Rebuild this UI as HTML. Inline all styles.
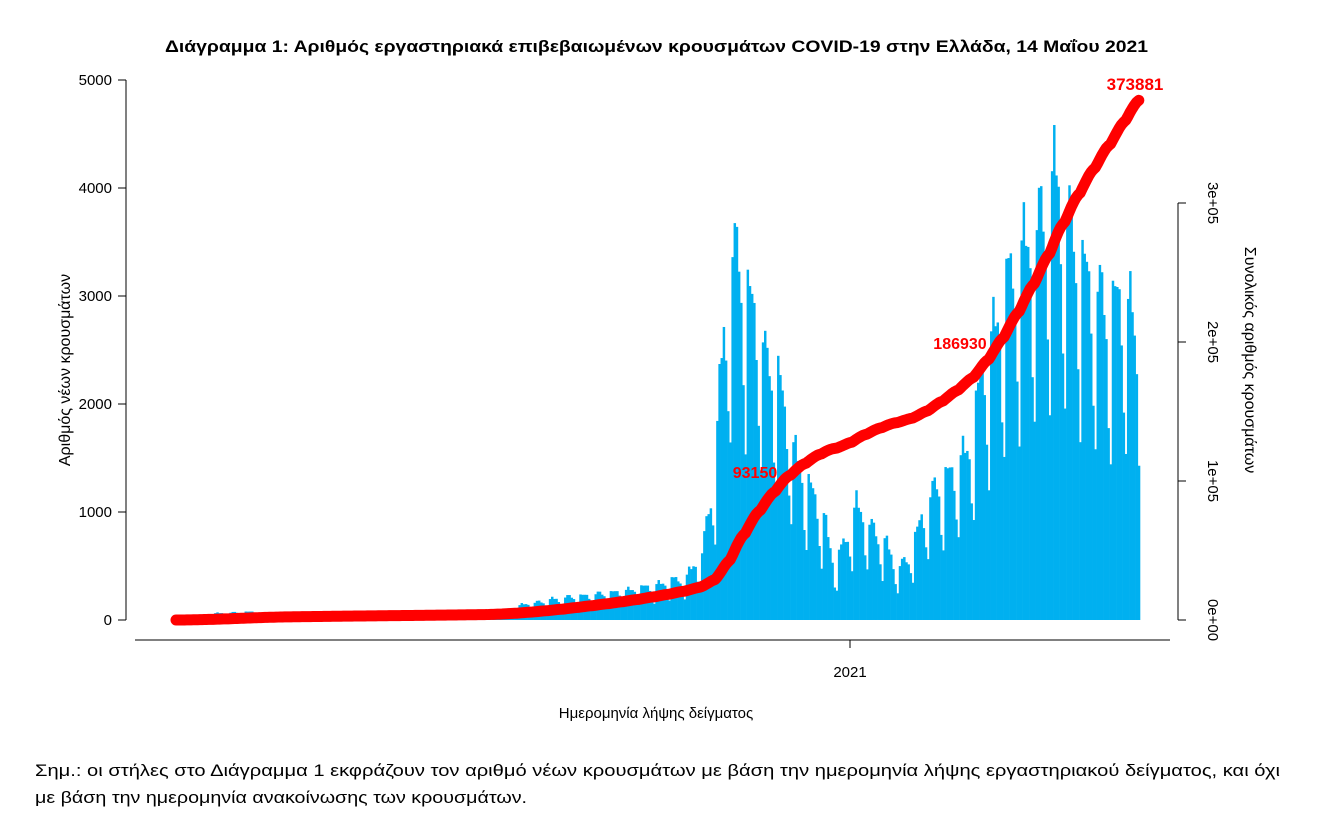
<!DOCTYPE html>
<html><head><meta charset="utf-8"><style>
body{margin:0;background:#fff;width:1336px;height:820px;overflow:hidden;font-family:"Liberation Sans","DejaVu Sans",sans-serif}
svg text{font-family:"Liberation Sans","DejaVu Sans",sans-serif}
</style></head><body>
<svg id="s" width="1336" height="820" xmlns="http://www.w3.org/2000/svg">
<text x="165" y="52" font-size="17" font-weight="bold" textLength="983" lengthAdjust="spacingAndGlyphs">Διάγραμμα 1: Αριθμός εργαστηριακά επιβεβαιωμένων κρουσμάτων COVID-19 στην Ελλάδα, 14 Μαΐου 2021</text>
<g id="bars" fill="#00b0f0"></g>
<g id="line"></g>
<g stroke="#000" stroke-width="1" fill="none">
<line x1="126" y1="80" x2="126" y2="620"/>
<line x1="118" y1="80" x2="126" y2="80"/><line x1="118" y1="188" x2="126" y2="188"/><line x1="118" y1="296" x2="126" y2="296"/><line x1="118" y1="404" x2="126" y2="404"/><line x1="118" y1="512" x2="126" y2="512"/><line x1="118" y1="620" x2="126" y2="620"/>
<line x1="135" y1="640" x2="1170" y2="640"/><line x1="850" y1="640" x2="850" y2="648"/>
<line x1="1178" y1="203" x2="1178" y2="620"/>
<line x1="1178" y1="203" x2="1186" y2="203"/><line x1="1178" y1="342" x2="1186" y2="342"/><line x1="1178" y1="481" x2="1186" y2="481"/><line x1="1178" y1="620" x2="1186" y2="620"/>
</g>
<g font-size="15" text-anchor="end">
<text x="112" y="85">5000</text><text x="112" y="193">4000</text><text x="112" y="301">3000</text><text x="112" y="409">2000</text><text x="112" y="517">1000</text><text x="112" y="625">0</text>
</g>
<text x="850" y="677" font-size="15" text-anchor="middle">2021</text>
<g font-size="15" text-anchor="middle">
<text transform="translate(1208,620) rotate(90)">0e+00</text>
<text transform="translate(1208,481) rotate(90)">1e+05</text>
<text transform="translate(1208,342) rotate(90)">2e+05</text>
<text transform="translate(1208,203) rotate(90)">3e+05</text>
</g>
<text transform="translate(70,370) rotate(-90)" font-size="16" text-anchor="middle">Αριθμός νέων κρουσμάτων</text>
<text transform="translate(1245,360) rotate(90)" font-size="16" text-anchor="middle">Συνολικός αριθμός κρουσμάτων</text>
<text x="656" y="718" font-size="15" text-anchor="middle">Ημερομηνία λήψης δείγματος</text>
<text x="1135" y="90" font-size="17" font-weight="bold" fill="#f00" text-anchor="middle">373881</text>
<text x="960" y="349" font-size="16" font-weight="bold" fill="#f00" text-anchor="middle">186930</text>
<text x="755" y="478" font-size="16" font-weight="bold" fill="#f00" text-anchor="middle">93150</text>
<text x="35" y="776" font-size="17" textLength="1245" lengthAdjust="spacingAndGlyphs">Σημ.: οι στήλες στο Διάγραμμα 1 εκφράζουν τον αριθμό νέων κρουσμάτων με βάση την ημερομηνία λήψης εργαστηριακού δείγματος, και όχι</text>
<text x="35" y="803" font-size="17" textLength="492" lengthAdjust="spacingAndGlyphs">με βάση την ημερομηνία ανακοίνωσης των κρουσμάτων.</text>
</svg>
<script>
var kp=[[0,5],[15,60],[35,80],[55,25],[100,20],[140,25],[160,150],[180,220],[200,260],[220,330],[235,420],[242,650],[248,1500],[252,2800],[256,3500],[259,3500],[264,3100],[268,2900],[272,2400],[276,2500],[280,2000],[285,1600],[292,1250],[298,1000],[303,500],[308,800],[313,1100],[320,900],[326,750],[332,500],[337,600],[343,1000],[350,1300],[358,1450],[365,1700],[372,2500],[378,2900],[385,3400],[392,3600],[398,3900],[405,4200],[410,3900],[416,3500],[422,3200],[428,3000],[434,3100],[440,3000],[443,2400]];
var wk=[1,1.05,1,0.95,0.85,0.62,0.48];
function env(d){for(var i=1;i<kp.length;i++){if(d<=kp[i][0]){var a=kp[i-1],b=kp[i];return a[1]+(b[1]-a[1])*(d-a[0])/(b[0]-a[0]);}}return kp[kp.length-1][1];}
var N=444,x0=175,dx=965/N,vals=[],html='';
for(var d=0;d<N;d++){var v=env(d)*wk[(d+3)%7]*(0.95+0.1*((d*37)%11)/10);vals.push(v);
var h=v*0.108;html+='<rect x="'+(x0+d*dx).toFixed(2)+'" y="'+(620-h).toFixed(2)+'" width="'+(dx+0.3).toFixed(2)+'" height="'+h.toFixed(2)+'"/>';}
document.getElementById('bars').innerHTML=html;
var tot=vals.reduce(function(a,b){return a+b},0),c=0,p='';
for(var d=0;d<N;d++){c+=vals[d];var y=620-(c/tot)*373881/100000*139;p+=(d?'L':'M')+(x0+d*dx+1).toFixed(2)+' '+y.toFixed(2);}
document.getElementById('line').innerHTML='<path d="'+p+'" fill="none" stroke="#f00" stroke-width="11" stroke-linecap="round" stroke-linejoin="round"/>';
</script>
</body></html>
